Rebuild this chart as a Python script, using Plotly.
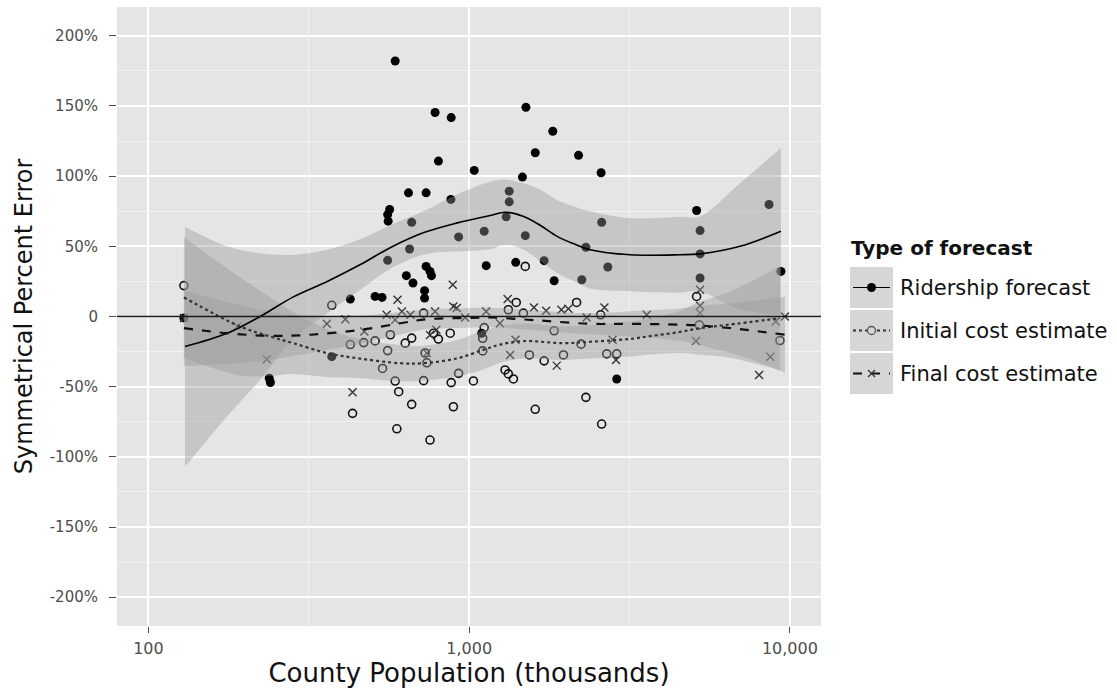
import plotly.graph_objects as go

W, H = 1117, 693
ML, MR, MT, MB = 117, 296, 7, 67
FONT = "DejaVu Sans"

# ---- observations: county population (thousands) vs symmetrical percent error ----
ridership_pop = [129, 238, 240, 373, 426, 509, 535, 557, 557, 559, 565, 588, 637, 647, 652,
                 662, 668, 726, 726, 734, 734, 755, 763, 783, 802, 877, 879, 927, 1037, 1094,
                 1114, 1130, 1304, 1333, 1333, 1397, 1466, 1497, 1503, 1607, 1713, 1823, 1841,
                 2193, 2245, 2312, 2579, 2589, 2706, 2885, 5118, 5248, 5248, 5248, 8610, 9376]
ridership_err = [-1, -44, -47, -28.6, 12.4, 14.3, 13.6, 40, 72.6, 67.9, 76.2, 182, 29.1, 88.1, 48.1,
                 67.1, 23.9, 18.4, 13.1, 88.1, 35.7, 32.1, 29.1, 145.3, 110.7, 83.4, 141.7, 56.7, 104.1, -11.9,
                 60.7, 36.2, 71, 81.7, 89.3, 38.6, 99.3, 57.6, 149, 116.7, 39.8, 132, 25.5,
                 114.8, 26.2, 49.3, 102.4, 67.1, 35.3, -44.5, 75.5, 61.2, 44.6, 27.4, 79.8, 32.1]

initial_pop = [129, 373, 426, 469, 509, 537, 557, 568, 588, 603, 433, 595, 632, 662, 662,
               721, 721, 729, 738, 755, 774, 802, 873, 879, 893, 927, 1031, 1102, 1102, 1114,
               1294, 1325, 1374, 1325, 1402, 1476, 1496, 1541, 1607, 1713, 1841, 1968, 2163,
               2233, 2312, 2589, 2570, 2685, 2885, 5118, 5220, 9311]
initial_err = [22, 8, -20, -18.6, -17.4, -37, -24.3, -13, -46, -53.6, -69, -80, -19, -15.4, -62.6,
               2.4, -45.7, -26, -33, -88, -11.9, -16.1, -11.9, -47.1, -64.3, -40.5, -45.9, -24.5, -15.5, -7.9,
               -38.1, -40.9, -44.5, 4.8, 10, 2.4, 35.7, -27.4, -66.1, -31.6, -10.2, -27.4, 10,
               -19.7, -57.6, -76.6, 1.2, -26.6, -26.6, 14.3, -6, -17.1]

final_pop = [129, 189, 234, 360, 411, 433, 471, 553, 598, 588, 617, 656, 738, 755, 783,
             790, 889, 893, 915, 972, 1130, 1247, 1318, 1342, 1395, 1592, 1738, 1875, 1939,
             2038, 2325, 2641, 2800, 2870, 3580, 5096, 5248, 5248, 5248, 8015, 8690, 9036, 9650]
final_err = [-1, -7.1, -30.4, -5.2, -1.9, -54, -10.7, 1.2, 12, -2.4, 3.6, 1.2, -26.1, -13.1, 3.6,
             -9.5, 22.6, 7.1, 6.0, -0.7, 3.6, -4.8, 12.4, -27.4, -16.6, 6.4, 4.1, -35, 4.8,
             5.5, -0.7, 6.4, -16.6, -31, 1.2, -17.4, 19, 7.6, 2.4, -41.6, -28.6, -3.6, 0]

# ---- loess fits with 95% confidence bands ----
ridership_fit_pop = [130, 176, 223, 283, 361, 458, 567, 719, 918, 1163, 1294, 1473, 1664,
                     1880, 2109, 2382, 3174, 4543, 5244, 6986, 9376]
ridership_fit = [-21.4, -12, 0, 14, 25, 37, 49, 59.6, 66.7, 72, 74.3, 71.4, 65,
                 57.1, 52, 47.6, 44, 44, 44.6, 50, 60.7]
ridership_hi = [64, 50, 45, 44, 47.6, 55, 65, 75, 87, 96, 97.6, 95, 90.5,
                83, 78.6, 75, 70, 71, 71.4, 95, 120]
ridership_lo = [-107, -71, -45, -16, 2.4, 19, 34, 44, 46.4, 48, 51, 47.8, 39.5,
                31, 25.4, 20, 18, 17, 17.8, 5, 1.4]

initial_fit_pop = [129, 193, 240, 283, 361, 458, 610, 719, 918, 1106, 1249, 1473, 1963,
                   2382, 3174, 3663, 4543, 5244, 6364, 9311]
initial_fit = [13.6, -7.1, -14.3, -19, -26.1, -30, -33.3, -33.3, -29.8, -23.8, -20, -17.5, -19,
               -18, -16, -14, -11, -8.3, -6, -1.2]
initial_hi = [56.6, 27.9, 13.7, 3, -9.1, -16, -20.3, -20.8, -16.8, -9.8, -7, -5, -7,
              -6, -3.5, -1, 4, 10.7, 17, 35.8]
initial_lo = [-29.4, -42.1, -42.3, -41, -43.1, -44, -46.3, -45.8, -42.8, -37.8, -33, -30, -31,
              -30, -28.5, -27, -26, -27.3, -29, -38.2]

final_fit_pop = [129, 176, 240, 320, 458, 610, 735, 1000, 1163, 1664, 2382, 3174, 4543,
                 5244, 6986, 9650]
final_fit = [-8.3, -11.9, -13.8, -13, -9.5, -4.8, -2, -1, -0.7, -2.9, -5.2, -5.2, -5.8,
             -6.4, -9, -13]
final_hi = [18.7, 10.1, 3.2, 0, 0.5, 3.2, 5, 6, 6.3, 4.1, 2.3, 3.8, 5.7,
            7.6, 10, 14]
final_lo = [-35.3, -33.9, -30.8, -26, -19.5, -12.8, -9, -8, -7.7, -9.9, -12.7, -14.2, -17.3,
            -20.4, -28, -40]

y_ticks = [-200, -150, -100, -50, 0, 50, 100, 150, 200]
y_tick_text = ["-200%", "-150%", "-100%", "-50%", "0", "50%", "100%", "150%", "200%"]
x_ticks = [100, 1000, 10000]
x_tick_text = ["100", "1,000", "10,000"]

series = [
    ("Ridership forecast", ridership_pop, ridership_err, ridership_fit_pop, ridership_fit,
     ridership_hi, ridership_lo),
    ("Initial cost estimate", initial_pop, initial_err, initial_fit_pop, initial_fit,
     initial_hi, initial_lo),
    ("Final cost estimate", final_pop, final_err, final_fit_pop, final_fit,
     final_hi, final_lo),
]

marker_styles = {
    "Ridership forecast": dict(symbol="circle", size=9, color="#000000",
                               line=dict(width=0)),
    "Initial cost estimate": dict(symbol="circle-open", size=8, color="#111111",
                                  line=dict(width=1.6, color="#111111")),
    "Final cost estimate": dict(symbol="x-thin-open", size=8, color="#333333",
                                line=dict(width=1.4, color="#333333")),
}
line_styles = {
    "Ridership forecast": dict(color="#000000", width=1.6, dash="solid"),
    "Initial cost estimate": dict(color="#333333", width=2.2, dash="dot"),
    "Final cost estimate": dict(color="#111111", width=2.2, dash="dash"),
}
RIBBON = "rgba(153,153,153,0.4)"

fig = go.Figure()

# points first, so the confidence bands tint them
for name, px_, py_, *_ in series:
    fig.add_trace(go.Scatter(x=px_, y=py_, mode="markers", marker=marker_styles[name],
                             showlegend=False, hoverinfo="skip"))

# confidence bands
for name, _, _, fx, fy, hi, lo in series:
    fig.add_trace(go.Scatter(x=fx, y=lo, mode="lines", line=dict(width=0, shape="spline"),
                             showlegend=False, hoverinfo="skip"))
    fig.add_trace(go.Scatter(x=fx, y=hi, mode="lines", line=dict(width=0, shape="spline"),
                             fill="tonexty", fillcolor=RIBBON, showlegend=False,
                             hoverinfo="skip"))

# fitted curves
for name, _, _, fx, fy, hi, lo in series:
    st = line_styles[name]
    fig.add_trace(go.Scatter(x=fx, y=fy, mode="lines",
                             line=dict(color=st["color"], width=st["width"], dash=st["dash"],
                                       shape="spline"),
                             showlegend=False, hoverinfo="skip"))

# zero reference line
fig.add_shape(type="line", xref="paper", yref="y", x0=0, x1=1, y0=0, y1=0,
              line=dict(color="#1a1a1a", width=1.6), layer="above")

# ---- hand-built legend (keys with shaded background) ----
def pxx(v):
    return (v - ML) / (W - ML - MR)


def pxy(v):
    return (H - MB - v) / (H - MT - MB)


fig.add_annotation(text="<b>Type of forecast</b>", xref="paper", yref="paper",
                   x=pxx(849), y=pxy(248), xanchor="left", yanchor="middle",
                   showarrow=False, font=dict(family=FONT, size=20, color="#111111"))

rows = [(267, 308), (310, 351), (353, 394)]
for (name, *_), (top, bot) in zip(series, rows):
    cy = (top + bot) / 2
    fig.add_shape(type="rect", xref="paper", yref="paper", x0=pxx(850), x1=pxx(893),
                  y0=pxy(bot), y1=pxy(top), fillcolor="#D6D6D6", line=dict(width=0),
                  layer="above")
    st = line_styles[name]
    fig.add_shape(type="line", xref="paper", yref="paper", x0=pxx(853), x1=pxx(890),
                  y0=pxy(cy), y1=pxy(cy), layer="above",
                  line=dict(color=st["color"], width=st["width"] - 0.4, dash=st["dash"]))
    mx = 871.5
    if name.startswith("Ridership"):
        fig.add_shape(type="circle", xref="paper", yref="paper",
                      x0=pxx(mx - 4.5), x1=pxx(mx + 4.5), y0=pxy(cy + 4.5), y1=pxy(cy - 4.5),
                      fillcolor="#000000", line=dict(width=0), layer="above")
    elif name.startswith("Initial"):
        fig.add_shape(type="circle", xref="paper", yref="paper",
                      x0=pxx(mx - 4), x1=pxx(mx + 4), y0=pxy(cy + 4), y1=pxy(cy - 4),
                      fillcolor="#D6D6D6", line=dict(width=1.3, color="#555555"), layer="above")
    else:
        for d in (1, -1):
            fig.add_shape(type="line", xref="paper", yref="paper",
                          x0=pxx(mx - 3.5), x1=pxx(mx + 3.5), y0=pxy(cy - 3.5 * d),
                          y1=pxy(cy + 3.5 * d), line=dict(color="#333333", width=1.3),
                          layer="above")
    fig.add_annotation(text=name, xref="paper", yref="paper", x=pxx(898), y=pxy(cy),
                       xanchor="left", yanchor="middle", showarrow=False,
                       font=dict(family=FONT, size=21, color="#111111"))

fig.update_layout(
    width=W, height=H,
    margin=dict(l=ML, r=MR, t=MT, b=MB, pad=0),
    paper_bgcolor="#FFFFFF",
    plot_bgcolor="#E5E5E5",
    font=dict(family=FONT, color="#4D4D4D", size=16),
    showlegend=False,
)

fig.update_xaxes(
    type="log", range=[1.902, 4.097],
    tickvals=x_ticks, ticktext=x_tick_text,
    showgrid=True, gridcolor="#FFFFFF", gridwidth=1.6,
    minor=dict(tickvals=[316.23, 3162.3], showgrid=True, gridcolor="#F2F2F2", gridwidth=1,
               ticks=""),
    ticks="outside", ticklen=6, tickcolor="#4D4D4D", tickwidth=1,
    ticklabelstandoff=2,
    tickfont=dict(family=FONT, size=16, color="#4D4D4D"),
    title=dict(text="County Population (thousands)", standoff=2,
               font=dict(family=FONT, size=26, color="#111111")),
    zeroline=False, showline=False,
)
fig.update_yaxes(
    range=[-220.5, 220.5],
    tickvals=y_ticks, ticktext=y_tick_text,
    showgrid=True, gridcolor="#FFFFFF", gridwidth=1.6,
    minor=dict(tickvals=[-175, -125, -75, -25, 25, 75, 125, 175], showgrid=True,
               gridcolor="#F2F2F2", gridwidth=1, ticks=""),
    ticks="outside", ticklen=7, tickcolor="#4D4D4D", tickwidth=1,
    ticklabelstandoff=8,
    tickfont=dict(family=FONT, size=15, color="#4D4D4D"),
    title=dict(text="Symmetrical Percent Error", standoff=10,
               font=dict(family=FONT, size=24, color="#111111")),
    zeroline=False, showline=False,
)

fig.write_html("out.html")
